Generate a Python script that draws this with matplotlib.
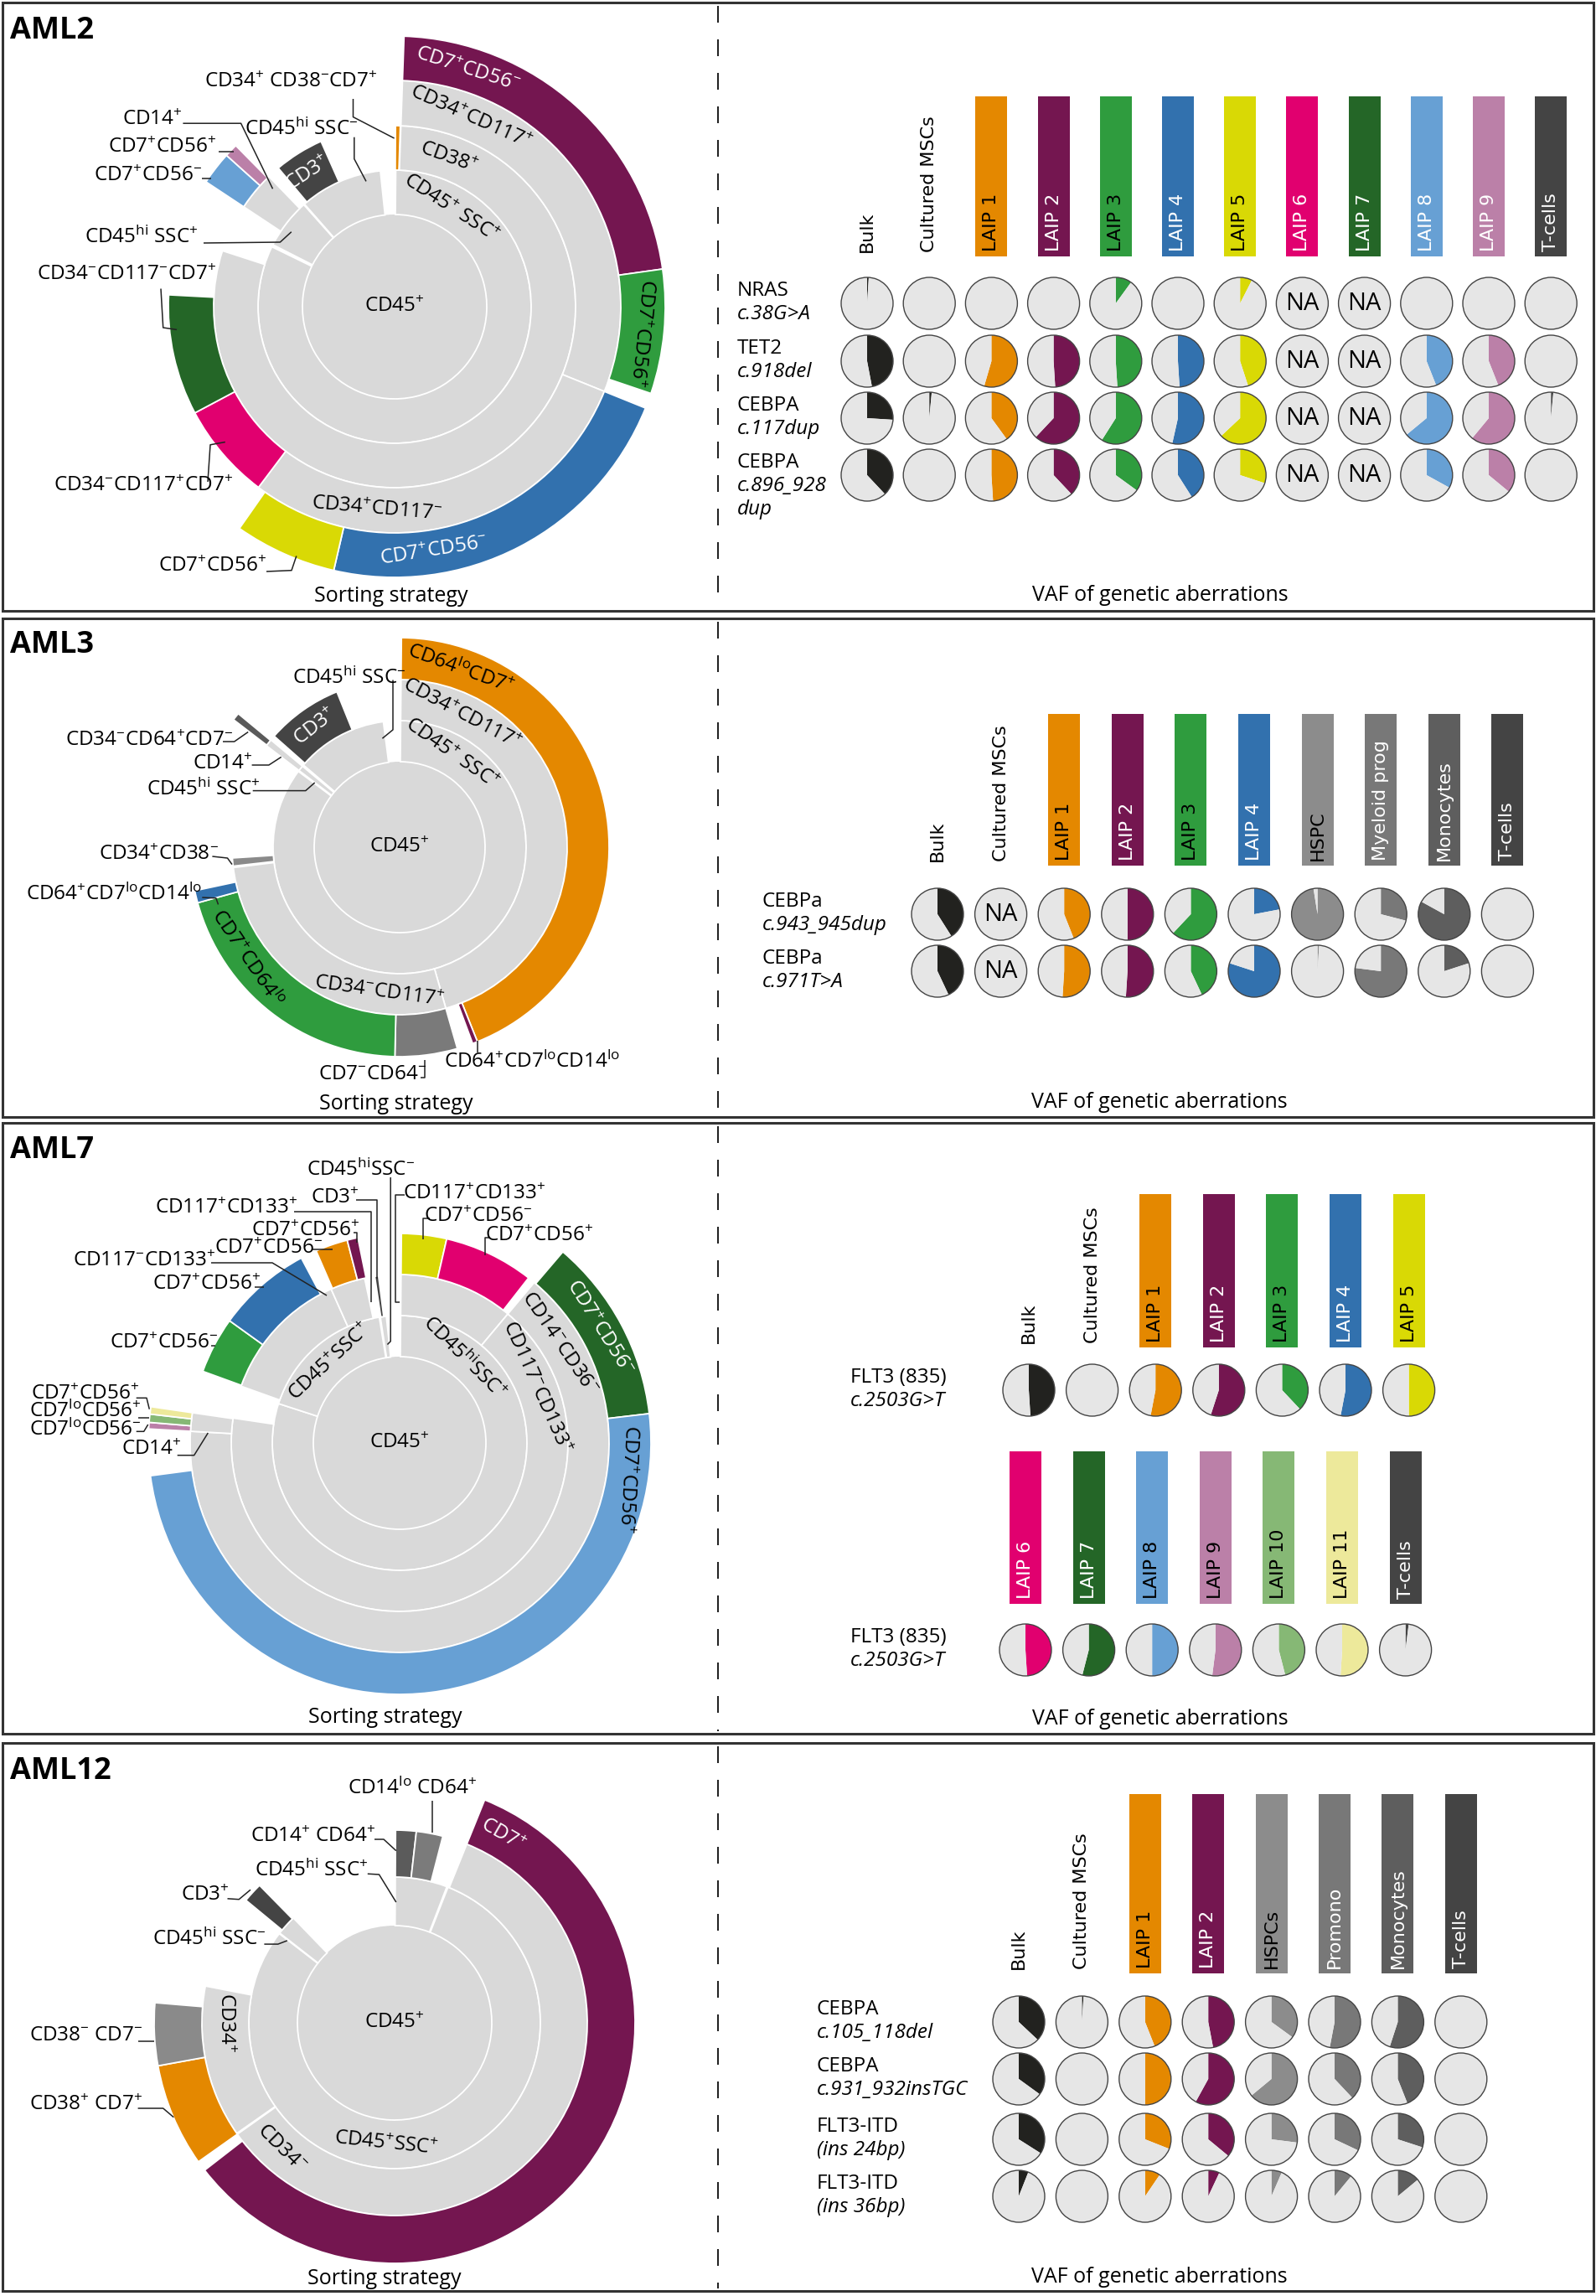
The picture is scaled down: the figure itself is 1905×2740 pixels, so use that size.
import re
import numpy as np
import matplotlib
matplotlib.use('Agg')
import matplotlib.pyplot as plt
from matplotlib.patches import Rectangle

plt.rcParams['font.family'] = ['Open Sans', 'DejaVu Sans']
plt.rcParams['mathtext.default'] = 'regular'

W, H = 1906, 2740
FS = 17.5

# colours
ORANGE = '#e48800'
PURPLE = '#741650'
GREEN = '#2f9c3e'
BLUE = '#3271ae'
YELLOW = '#d9d905'
MAGENTA = '#e1006f'
DGREEN = '#246627'
LBLUE = '#67a0d4'
PINK = '#bb80a8'
LGREEN = '#86b875'
LYELLOW = '#ede99b'
TCELL = '#444444'
HSPC = '#8c8c8c'
MYEL = '#787878'
MONO = '#5e5e5e'
BULK = '#22221f'
RING = '#d9d9d9'
PIEBG = '#e6e6e6'
NA = None

# ---------------- AML2 sorting strategy (ring index, start/end angle in degrees clockwise from top)
aml2_seg_ring = [0, 1, 1, 1, 2, 2, 2, 2, 3, 3, 3, 3, 3, 3, 4, 4, 4, 4]
aml2_seg_start = [0, 0.5, 297, 318.7, 0.3, 2, 303.5, 320, 2, 112, 217, 242, 303.5, 312, 2, 82, 112, 193]
aml2_seg_end = [360, 296, 318.3, 354, 1.8, 288, 316, 336, 112, 217, 242, 273, 312, 315.4, 82, 108.7, 193, 215]
aml2_seg_color = [RING, RING, RING, RING, ORANGE, RING, RING, TCELL, RING, RING, MAGENTA, DGREEN,
                  LBLUE, PINK, PURPLE, GREEN, BLUE, YELLOW]

# ---------------- AML2 VAF
aml2_cols = ['Bulk', 'Cultured MSCs', 'LAIP 1', 'LAIP 2', 'LAIP 3', 'LAIP 4', 'LAIP 5',
             'LAIP 6', 'LAIP 7', 'LAIP 8', 'LAIP 9', 'T-cells']
aml2_genes = ['NRAS', 'TET2', 'CEBPA', 'CEBPA']
aml2_muts = ['c.38G>A', 'c.918del', 'c.117dup', 'c.896_928\ndup']
aml2_vaf = [
    [0.01, 0, 0, 0, 0.10, 0, 0.075, NA, NA, 0, 0, 0],
    [0.47, 0, 0.545, 0.49, 0.49, 0.49, 0.45, NA, NA, 0.44, 0.44, 0],
    [0.26, 0.015, 0.40, 0.62, 0.59, 0.535, 0.63, NA, NA, 0.64, 0.61, 0.015],
    [0.38, 0, 0.49, 0.38, 0.35, 0.41, 0.30, NA, NA, 0.33, 0.36, 0],
]
aml2_bar = [None, None, ORANGE, PURPLE, GREEN, BLUE, YELLOW, MAGENTA, DGREEN, LBLUE, PINK, TCELL]
aml2_txt = ['k', 'k', 'k', 'w', 'k', 'w', 'k', 'w', 'w', 'w', 'w', 'w']

# ---------------- AML3 sorting strategy
aml3_seg_ring = [0, 1, 1, 1, 2, 2, 2, 2, 2, 3, 3, 3, 3, 3, 3]
aml3_seg_start = [0, 0.5, 307.3, 310.5, 0.5, 164, 263.5, 307.3, 311.5, 0.5, 158.2, 164, 181.3, 254.6, 307.5]
aml3_seg_end = [360, 306.8, 309.8, 352.6, 164, 263, 266.3, 309.8, 338, 158.2, 159.6, 181.3, 254.6, 258, 309.6]
aml3_seg_color = [RING, RING, RING, RING, RING, RING, '#8a8a8a', RING, TCELL, ORANGE, PURPLE,
                  '#7a7a7a', GREEN, BLUE, '#5a5a5a']

aml3_cols = ['Bulk', 'Cultured MSCs', 'LAIP 1', 'LAIP 2', 'LAIP 3', 'LAIP 4', 'HSPC',
             'Myeloid prog', 'Monocytes', 'T-cells']
aml3_genes = ['CEBPa', 'CEBPa']
aml3_muts = ['c.943_945dup', 'c.971T>A']
aml3_vaf = [
    [0.41, NA, 0.44, 0.50, 0.62, 0.22, 0.975, 0.29, 0.83, 0],
    [0.43, NA, 0.51, 0.51, 0.43, 0.80, 0.01, 0.77, 0.20, 0],
]
aml3_bar = [None, None, ORANGE, PURPLE, GREEN, BLUE, HSPC, MYEL, MONO, TCELL]
aml3_txt = ['k', 'k', 'k', 'w', 'k', 'w', 'k', 'w', 'w', 'w']

# ---------------- AML7 sorting strategy
aml7_seg_ring = [0, 1, 1, 1, 2, 2, 2, 2, 2, 3, 3, 3, 3, 3, 3, 3, 3, 4, 4, 4, 4, 4]
aml7_seg_start = [0, 0.5, 288, 351.3, 0.5, 40, 289.7, 336, 351.5, 0.5, 13, 40, 273.2, 290, 305.7,
                  336.5, 345.5, 40.5, 83.3, 273.2, 274.7, 276.6]
aml7_seg_end = [360, 288, 350.8, 354, 40, 278.5, 336, 348, 352.8, 13, 38, 273.2, 278.3, 305.7, 332,
                345.5, 348.5, 83.3, 262.5, 274.7, 276.6, 278.3]
aml7_seg_color = [RING, RING, RING, RING, RING, RING, RING, RING, TCELL, YELLOW, MAGENTA, RING, RING,
                  GREEN, BLUE, ORANGE, PURPLE, DGREEN, LBLUE, PINK, LGREEN, LYELLOW]

aml7_cols_a = ['Bulk', 'Cultured MSCs', 'LAIP 1', 'LAIP 2', 'LAIP 3', 'LAIP 4', 'LAIP 5']
aml7_vaf_a = [[0.49, 0, 0.53, 0.55, 0.38, 0.53, 0.50]]
aml7_bar_a = [None, None, ORANGE, PURPLE, GREEN, BLUE, YELLOW]
aml7_txt_a = ['k', 'k', 'k', 'w', 'k', 'w', 'k']
aml7_cols_b = ['LAIP 6', 'LAIP 7', 'LAIP 8', 'LAIP 9', 'LAIP 10', 'LAIP 11', 'T-cells']
aml7_vaf_b = [[0.49, 0.54, 0.50, 0.52, 0.46, 0.51, 0.02]]
aml7_bar_b = [MAGENTA, DGREEN, LBLUE, PINK, LGREEN, LYELLOW, TCELL]
aml7_txt_b = ['w', 'w', 'k', 'k', 'k', 'k', 'w']
aml7_genes = ['FLT3 (835)']
aml7_muts = ['c.2503G>T']

# ---------------- AML12 sorting strategy
aml12_seg_ring = [0, 1, 1, 1, 2, 2, 2, 2, 2, 3, 3, 3]
aml12_seg_start = [0, 0.3, 21.5, 308, 0.3, 6.5, 22, 235, 309.5, 22, 234.7, 259.7]
aml12_seg_end = [360, 21, 307.7, 316, 6.5, 14.5, 234.7, 281, 315.5, 232.2, 259.7, 274.8]
aml12_seg_color = [RING, RING, RING, RING, '#5b5b5b', '#7b7b7b', RING, RING, TCELL, PURPLE, ORANGE, '#8a8a8a']

aml12_cols = ['Bulk', 'Cultured MSCs', 'LAIP 1', 'LAIP 2', 'HSPCs', 'Promono', 'Monocytes', 'T-cells']
aml12_genes = ['CEBPA', 'CEBPA', 'FLT3-ITD', 'FLT3-ITD']
aml12_muts = ['c.105_118del', 'c.931_932insTGC', '(ins 24bp)', '(ins 36bp)']
aml12_vaf = [
    [0.37, 0.01, 0.44, 0.47, 0.35, 0.53, 0.55, 0],
    [0.35, 0, 0.50, 0.58, 0.64, 0.38, 0.44, 0],
    [0.34, 0, 0.31, 0.36, 0.27, 0.32, 0.30, 0],
    [0.06, 0, 0.095, 0.07, 0.065, 0.11, 0.14, 0],
]
aml12_bar = [None, None, ORANGE, PURPLE, HSPC, MYEL, MONO, TCELL]
aml12_txt = ['k', 'k', 'k', 'w', 'k', 'w', 'w', 'w']


def fmt(s):
    s = re.sub(r'\^\{(\w+)\}', r'$^{\1}$', s)
    s = re.sub(r'\^([+-])', r'$^{\1}$', s)
    return s


fig = plt.figure(figsize=(W / 100, H / 100), dpi=100)
ax = fig.add_axes([0, 0, 1, 1])
ax.set_zorder(3)
ax.patch.set_alpha(0)


def sunburst(cx, cy, radii, ring, start, end, colors, labels):
    R = radii[-1] + 4
    pax = fig.add_axes([(cx - R) / W, (H - cy - R) / H, 2 * R / W, 2 * R / H], projection='polar')
    pax.set_zorder(1)
    pax.set_theta_zero_location('N')
    pax.set_theta_direction(-1)
    for k in range(len(ring)):
        t0, t1 = np.radians(start[k]), np.radians(end[k])
        r0, r1 = radii[ring[k]], radii[ring[k] + 1]
        full = end[k] - start[k] >= 360
        pax.bar((t0 + t1) / 2, r1 - r0, width=t1 - t0, bottom=r0, color=colors[k],
                edgecolor='none' if full else 'white', linewidth=0 if full else 1.3)
    for s, b, r, rot, c in labels:
        pax.text(np.radians(b), r, fmt(s), rotation=rot, rotation_mode='anchor',
                 ha='center', va='center', color=c, fontsize=FS)
    pax.set_ylim(0, R)
    pax.set_axis_off()


def callouts(items):
    for s, x, y, pts in items:
        ax.text(x, y, fmt(s), ha='center', va='center', fontsize=FS)
        px, py = zip(*pts)
        ax.plot(px, py, color='#222222', lw=1.1, solid_capstyle='butt')


def pie_panel(cols, bars, txt, vaf, x0, dx, ys, bar_top, bar_bot, genes, muts, label_x):
    xs = x0 + dx * np.arange(len(cols))
    for j, name in enumerate(cols):
        if bars[j] is not None:
            ax.bar(xs[j], bar_bot - bar_top, width=38, bottom=bar_top, color=bars[j])
            ax.text(xs[j], bar_bot - 6, name, rotation=90, ha='center', va='bottom',
                    color=txt[j], family='DejaVu Sans', fontsize=16)
        else:
            ax.text(xs[j], bar_bot - 5, name, rotation=90, ha='center', va='bottom',
                    color='k', family='DejaVu Sans', fontsize=16)
    fills = [bars[j] if bars[j] is not None else BULK for j in range(len(cols))]
    for i, row in enumerate(vaf):
        for j, v in enumerate(row):
            c = (xs[j], ys[i])
            if v is None or v <= 0:
                ax.pie([1], colors=[PIEBG], center=c, radius=31, frame=True,
                       wedgeprops=dict(linewidth=0))
                if v is None:
                    ax.text(c[0], c[1], 'NA', ha='center', va='center', fontsize=21)
            else:
                ax.pie([v, 1 - v], colors=[fills[j], PIEBG], startangle=-90, counterclock=True,
                       center=c, radius=31, frame=True, wedgeprops=dict(linewidth=0))
            ax.pie([1], colors=['none'], center=c, radius=31, frame=True,
                   wedgeprops=dict(edgecolor='#444444', linewidth=1.0))
    for i, y in enumerate(ys[:len(genes)]):
        ax.text(label_x, y - 15, genes[i], ha='left', va='center', fontsize=FS)
        for k, line in enumerate(muts[i].split('\n')):
            ax.text(label_x, y + 13 + 28 * k, line, ha='left', va='center', fontsize=FS, style='italic')


# ---------------- panel frames
panels = [(3, 729), (738, 1333), (1340, 2069), (2080, 2734)]
titles = ['AML2', 'AML3', 'AML7', 'AML12']
title_y = [37, 770, 1373, 2114]
sort_xy = [(467, 711), (473, 1317), (460, 2050), (459, 2720)]
vaf_xy = [(1385, 710), (1384, 1315), (1385, 2052), (1384, 2718)]
for k, (top, bot) in enumerate(panels):
    ax.add_patch(Rectangle((3, top), 1899, bot - top, fill=False, ec='#333333', lw=2.2))
    ax.plot([857, 857], [top + 4, bot - 3], color='#222222', lw=1.44, ls=(0, (10, 10)))
    ax.text(12, title_y[k], titles[k], ha='left', va='center', fontsize=26, fontweight='bold')
    ax.text(*sort_xy[k], 'Sorting strategy', ha='center', va='center', fontsize=18)
    ax.text(*vaf_xy[k], 'VAF of genetic aberrations', ha='center', va='center', fontsize=18)

# ---------------- AML2
sunburst(471, 366, [0, 110, 163, 216, 270, 323], aml2_seg_ring, aml2_seg_start, aml2_seg_end, aml2_seg_color, [
    ('CD45^+', 0, 0, 0, 'k'),
    ('CD45^+ SSC^+', 30, 135, -33, 'k'),
    ('CD38^+', 20, 189, -20, 'k'),
    ('CD34^+CD117^+', 22, 243, -24, 'k'),
    ('CD7^+CD56^-', 17, 296, -18, 'w'),
    ('CD7^+CD56^+', 96, 296, -96, 'k'),
    ('CD7^+CD56^-', 171, 296, 9, 'w'),
    ('CD34^+CD117^-', 185, 243, -5, 'k'),
    ('CD3^+', 327, 189, 33, 'w'),
])
callouts([
    ('CD34^+ CD38^-CD7^+', 347, 98, [(421.5, 118), (421.5, 139.6), (470.6, 165)]),
    ('CD14^+', 182, 143, [(218.4, 147.2), (287.6, 147.2), (325.5, 225.3)]),
    ('CD45^{hi} SSC^-', 360, 154, [(422.8, 163.7), (422.8, 189.6), (437, 216.4)]),
    ('CD7^+CD56^+', 194, 176, [(260.8, 180.7), (278.6, 180.7)]),
    ('CD7^+CD56^-', 177, 209.7, [(240.7, 212.8), (251.9, 212.8)]),
    ('CD45^{hi} SSC^+', 169, 283, [(243, 290), (334.4, 289), (347.8, 276.7)]),
    ('CD34^-CD117^-CD7^+', 151, 328, [(192, 344.5), (194.7, 391), (211, 393.4)]),
    ('CD34^-CD117^+CD7^+', 171.5, 579.7, [(248, 575), (251, 530.8), (268.8, 527.5)]),
    ('CD7^+CD56^+', 254, 676, [(318, 682), (348, 680.7), (353.8, 663.5)]),
])
pie_panel(aml2_cols, aml2_bar, aml2_txt, aml2_vaf, 1035, 74.2, [362, 431, 499, 567], 115, 306,
          aml2_genes, aml2_muts, 880)

# ---------------- AML3
sunburst(477, 1011, [0, 102, 151, 200, 250], aml3_seg_ring, aml3_seg_start, aml3_seg_end, aml3_seg_color, [
    ('CD45^+', 0, 0, 0, 'k'),
    ('CD45^+ SSC^+', 29, 127, -35, 'k'),
    ('CD34^+CD117^+', 25, 175, -28, 'k'),
    ('CD64^{lo}CD7^+', 19, 225, -20, 'k'),
    ('CD3^+', 325, 175, 38, 'w'),
    ('CD7^+CD64^{lo}', 234, 225, -56, 'k'),
    ('CD34^-CD117^+', 188, 175, -8, 'k'),
])
callouts([
    ('CD45^{hi} SSC^-', 417, 809.6, [(469, 811.5), (469, 870.9), (456.4, 881.2)]),
    ('CD34^-CD64^+CD7^-', 178, 883.5, [(266, 885), (279.7, 885), (296.2, 873.5)]),
    ('CD14^+', 266, 911.8, [(300.6, 913), (320.9, 913), (335.7, 903.4)]),
    ('CD45^{hi} SSC^+', 243, 942.4, [(301.7, 943.6), (364.8, 943.6), (375.7, 934)]),
    ('CD34^+CD38^-', 189, 1020, [(253.4, 1022), (271.5, 1024), (277, 1031.6)]),
    ('CD64^+CD7^{lo}CD14^{lo}', 136, 1067, [(241.3, 1071), (257.8, 1071.8), (260.5, 1079.4)]),
    ('CD64^+CD7^{lo}CD14^{lo}', 635, 1267, [(570.4, 1242), (570.4, 1256)]),
    ('CD7^-CD64^-', 445, 1282, [(501.9, 1286), (507.4, 1286), (507.4, 1265)]),
])
pie_panel(aml3_cols, aml3_bar, aml3_txt, aml3_vaf, 1119, 75.6, [1091, 1159], 852, 1033,
          aml3_genes, aml3_muts, 910)

# ---------------- AML7
sunburst(477, 1722, [0, 103, 152, 201, 250, 300], aml7_seg_ring, aml7_seg_start, aml7_seg_end, aml7_seg_color, [
    ('CD45^+', 0, 0, 0, 'k'),
    ('CD45^{hi}SSC^+', 37, 127, -45, 'k'),
    ('CD45^+SSC^+', 319, 127, 43, 'k'),
    ('CD117^-CD133^+', 68, 176, -66, 'k'),
    ('CD14^-CD36^-', 58, 225, -56, 'k'),
    ('CD7^+CD56^-', 60, 275, -58, 'w'),
    ('CD7^+CD56^+', 99, 275, -93, 'k'),
])
callouts([
    ('CD45^{hi}SSC^-', 430.5, 1396, [(466.2, 1405), (466.2, 1600.7), (462.4, 1604.5)]),
    ('CD117^+CD133^+', 566.4, 1424.7, [(482.7, 1426), (471.7, 1426), (471.7, 1554), (477.2, 1554)]),
    ('CD3^+', 400, 1430, [(425, 1432), (449.8, 1432), (449.8, 1526)]),
    ('CD117^+CD133^+', 270, 1441.5, [(351, 1446), (443.2, 1446), (443.2, 1554)]),
    ('CD7^+CD56^-', 570.4, 1451.7, [(512.8, 1454), (504.6, 1454), (504.6, 1478.7)]),
    ('CD7^+CD56^+', 643.2, 1475, [(584.2, 1477.4), (578.7, 1477.4), (578.7, 1498.3)]),
    ('CD7^+CD56^+', 364.8, 1469.4, [(422.5, 1471), (426, 1471), (426, 1483)]),
    ('CD7^+CD56^-', 320.9, 1490, [(373.3, 1490.7), (396.7, 1490.7)]),
    ('CD117^-CD133^+', 172.8, 1505.3, [(252, 1507), (325, 1507), (390, 1546)]),
    ('CD7^+CD56^+', 246.8, 1533.2, [(304.4, 1535.5), (315.4, 1535.5)]),
    ('CD7^+CD56^-', 196, 1603, [(252, 1606), (257, 1606)]),
    ('CD7^+CD56^+', 101.5, 1663.6, [(162.7, 1668.3), (175, 1668.3), (178.3, 1681.7)]),
    ('CD7^{lo}CD56^+', 101.5, 1684.5, [(165, 1691.7), (178.3, 1691.7)]),
    ('CD7^{lo}CD56^-', 101.5, 1706.4, [(162.7, 1708.3), (171.7, 1708.3), (176.7, 1700)]),
    ('CD14^+', 180.8, 1730.2, [(211.7, 1736.7), (231.7, 1736.7), (248.3, 1710)]),
])
pie_panel(aml7_cols_a, aml7_bar_a, aml7_txt_a, aml7_vaf_a, 1228, 75.6, [1659], 1425, 1608,
          aml7_genes, aml7_muts, 1015)
pie_panel(aml7_cols_b, aml7_bar_b, aml7_txt_b, aml7_vaf_b, 1224, 75.6, [1969], 1732, 1914,
          aml7_genes, aml7_muts, 1015)

# ---------------- AML12
sunburst(471, 2414, [0, 116, 174, 230, 287], aml12_seg_ring, aml12_seg_start, aml12_seg_end, aml12_seg_color, [
    ('CD45^+', 0, 0, 0, 'k'),
    ('CD45^+SSC^+', 184, 145, -6, 'k'),
    ('CD34^-', 222, 202, -45, 'k'),
    ('CD34^+', 270, 202, -90, 'k'),
    ('CD7^+', 30, 258, -30, 'w'),
])
callouts([
    ('CD14^{lo} CD64^+', 492.3, 2134.4, [(515.6, 2149.2), (515.6, 2187.4)]),
    ('CD14^+ CD64^+', 373.8, 2191.6, [(447, 2195), (458, 2195), (472.8, 2208.6)]),
    ('CD45^{hi} SSC^+', 371.6, 2232, [(438.8, 2236.2), (452.5, 2237), (472.8, 2270)]),
    ('CD3^+', 245, 2261.6, [(271.5, 2265.8), (285.2, 2266.7), (299, 2255.2)]),
    ('CD45^{hi} SSC^-', 249.6, 2314.6, [(315.4, 2320.1), (331.8, 2320.1), (342.8, 2315.9)]),
    ('CD38^- CD7^-', 102.8, 2429.1, [(164.6, 2436.3), (183.7, 2436.3)]),
    ('CD38^+ CD7^+', 102.8, 2511.8, [(164.6, 2516), (194.7, 2516), (207.3, 2526.7)]),
])
pie_panel(aml12_cols, aml12_bar, aml12_txt, aml12_vaf, 1216, 75.4, [2413, 2481, 2553, 2621], 2141, 2355,
          aml12_genes, aml12_muts, 975)

ax.set_xlim(0, W)
ax.set_ylim(H, 0)
ax.set_aspect('auto')
ax.axis('off')

fig.savefig('out.png', dpi=100)
